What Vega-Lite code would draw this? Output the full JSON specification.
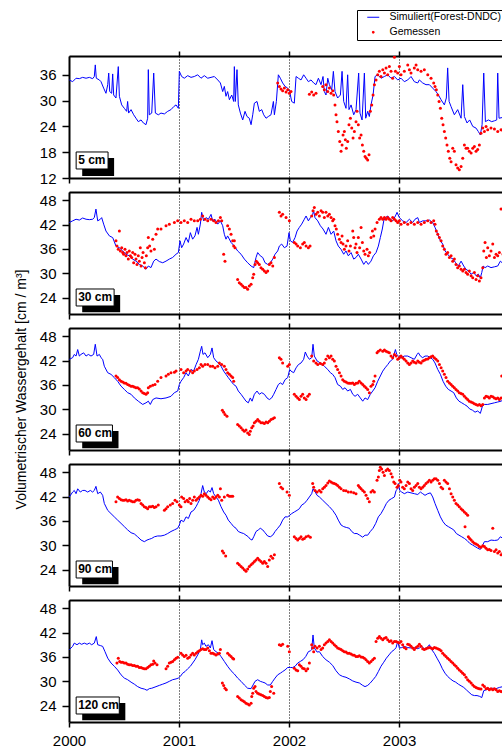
{
"$schema": "https://vega.github.io/schema/vega-lite/v6.json",
"padding": {"left": 14, "top": 9, "right": 0, "bottom": 0},
"spacing": 14,
"bounds": "flush",
"config": {
  "font": "Liberation Sans",
  "view": {"stroke": null},
  "axis": {"domainColor": "black", "domainWidth": 2, "tickColor": "black", "tickWidth": 1.5, "labelColor": "black", "labelFont": "Liberation Sans", "labelFontSize": 15, "titleFont": "Liberation Sans", "titleFontWeight": "normal", "titleColor": "black", "grid": false, "labelFlush": false, "labelOverlap": false}
},
"datasets": {
"s1": [{"x":2000.003,"y":34.8},{"x":2000.033,"y":34.4},{"x":2000.064,"y":35.2},{"x":2000.094,"y":35.1},{"x":2000.124,"y":35.4},{"x":2000.155,"y":35.2},{"x":2000.185,"y":35.4},{"x":2000.215,"y":35.1},{"x":2000.230,"y":35.6},{"x":2000.239,"y":38.3},{"x":2000.248,"y":35.2},{"x":2000.276,"y":34.8},{"x":2000.291,"y":34.4},{"x":2000.315,"y":32.9},{"x":2000.336,"y":31.7},{"x":2000.352,"y":33.7},{"x":2000.361,"y":36.4},{"x":2000.370,"y":32.1},{"x":2000.388,"y":31.7},{"x":2000.397,"y":36.2},{"x":2000.406,"y":31.3},{"x":2000.427,"y":30.6},{"x":2000.448,"y":37.9},{"x":2000.458,"y":31.0},{"x":2000.479,"y":29.0},{"x":2000.503,"y":28.2},{"x":2000.524,"y":27.5},{"x":2000.533,"y":29.8},{"x":2000.542,"y":27.1},{"x":2000.564,"y":27.9},{"x":2000.588,"y":26.7},{"x":2000.609,"y":25.9},{"x":2000.630,"y":25.1},{"x":2000.655,"y":25.5},{"x":2000.676,"y":24.8},{"x":2000.700,"y":24.4},{"x":2000.715,"y":25.9},{"x":2000.721,"y":37.2},{"x":2000.730,"y":26.7},{"x":2000.752,"y":27.1},{"x":2000.770,"y":36.4},{"x":2000.785,"y":27.1},{"x":2000.812,"y":26.7},{"x":2000.836,"y":27.1},{"x":2000.867,"y":26.9},{"x":2000.897,"y":27.5},{"x":2000.927,"y":27.9},{"x":2000.952,"y":28.6},{"x":2000.973,"y":29.0},{"x":2000.994,"y":28.2},{"x":2001.003,"y":36.8},{"x":2001.024,"y":35.6},{"x":2001.048,"y":35.2},{"x":2001.079,"y":35.8},{"x":2001.109,"y":35.4},{"x":2001.139,"y":35.6},{"x":2001.170,"y":36.0},{"x":2001.200,"y":35.2},{"x":2001.230,"y":35.8},{"x":2001.261,"y":35.2},{"x":2001.291,"y":35.4},{"x":2001.321,"y":35.6},{"x":2001.352,"y":34.8},{"x":2001.376,"y":34.1},{"x":2001.397,"y":32.1},{"x":2001.412,"y":33.3},{"x":2001.427,"y":31.0},{"x":2001.442,"y":32.1},{"x":2001.458,"y":30.2},{"x":2001.479,"y":31.3},{"x":2001.497,"y":29.8},{"x":2001.503,"y":37.9},{"x":2001.512,"y":29.8},{"x":2001.527,"y":37.2},{"x":2001.539,"y":29.0},{"x":2001.558,"y":27.1},{"x":2001.579,"y":25.5},{"x":2001.600,"y":27.5},{"x":2001.618,"y":26.3},{"x":2001.639,"y":25.9},{"x":2001.655,"y":24.4},{"x":2001.670,"y":26.7},{"x":2001.685,"y":29.4},{"x":2001.709,"y":29.8},{"x":2001.730,"y":27.5},{"x":2001.752,"y":27.9},{"x":2001.770,"y":26.7},{"x":2001.791,"y":25.9},{"x":2001.812,"y":26.3},{"x":2001.836,"y":26.7},{"x":2001.858,"y":29.8},{"x":2001.867,"y":26.7},{"x":2001.885,"y":29.8},{"x":2001.903,"y":36.0},{"x":2001.921,"y":35.2},{"x":2001.942,"y":34.1},{"x":2001.964,"y":33.3},{"x":2001.988,"y":32.9},{"x":2002.006,"y":32.1},{"x":2002.024,"y":29.8},{"x":2002.048,"y":29.4},{"x":2002.064,"y":35.6},{"x":2002.085,"y":35.2},{"x":2002.109,"y":34.8},{"x":2002.133,"y":36.0},{"x":2002.155,"y":35.2},{"x":2002.176,"y":34.4},{"x":2002.200,"y":34.8},{"x":2002.224,"y":34.1},{"x":2002.245,"y":33.7},{"x":2002.267,"y":35.2},{"x":2002.291,"y":33.7},{"x":2002.309,"y":35.6},{"x":2002.321,"y":32.1},{"x":2002.336,"y":31.3},{"x":2002.352,"y":35.2},{"x":2002.367,"y":33.7},{"x":2002.388,"y":32.5},{"x":2002.403,"y":36.8},{"x":2002.418,"y":32.1},{"x":2002.442,"y":30.6},{"x":2002.467,"y":31.3},{"x":2002.482,"y":36.8},{"x":2002.497,"y":29.8},{"x":2002.518,"y":28.2},{"x":2002.533,"y":36.0},{"x":2002.545,"y":27.9},{"x":2002.564,"y":29.0},{"x":2002.588,"y":26.7},{"x":2002.609,"y":27.9},{"x":2002.633,"y":36.4},{"x":2002.645,"y":27.1},{"x":2002.664,"y":25.5},{"x":2002.685,"y":36.4},{"x":2002.697,"y":25.9},{"x":2002.715,"y":27.5},{"x":2002.730,"y":26.3},{"x":2002.745,"y":29.0},{"x":2002.764,"y":31.3},{"x":2002.782,"y":35.6},{"x":2002.806,"y":36.0},{"x":2002.836,"y":35.2},{"x":2002.867,"y":35.6},{"x":2002.897,"y":36.0},{"x":2002.927,"y":35.2},{"x":2002.958,"y":35.6},{"x":2002.988,"y":34.8},{"x":2003.018,"y":35.2},{"x":2003.048,"y":34.4},{"x":2003.079,"y":34.8},{"x":2003.109,"y":35.6},{"x":2003.139,"y":34.4},{"x":2003.170,"y":34.1},{"x":2003.185,"y":34.8},{"x":2003.215,"y":34.1},{"x":2003.245,"y":33.7},{"x":2003.276,"y":33.7},{"x":2003.306,"y":32.9},{"x":2003.336,"y":32.1},{"x":2003.358,"y":31.3},{"x":2003.382,"y":30.2},{"x":2003.412,"y":29.0},{"x":2003.430,"y":30.6},{"x":2003.442,"y":37.6},{"x":2003.455,"y":29.8},{"x":2003.473,"y":28.6},{"x":2003.503,"y":26.7},{"x":2003.533,"y":27.9},{"x":2003.564,"y":25.9},{"x":2003.579,"y":33.7},{"x":2003.594,"y":26.3},{"x":2003.618,"y":24.8},{"x":2003.642,"y":25.5},{"x":2003.670,"y":24.0},{"x":2003.700,"y":23.6},{"x":2003.721,"y":22.8},{"x":2003.739,"y":22.0},{"x":2003.755,"y":24.4},{"x":2003.770,"y":36.4},{"x":2003.785,"y":25.1},{"x":2003.812,"y":25.5},{"x":2003.842,"y":25.1},{"x":2003.867,"y":25.3},{"x":2003.888,"y":25.5},{"x":2003.897,"y":36.4},{"x":2003.909,"y":25.9},{"x":2003.945,"y":26.1}],
"o1": [{"x":2001.897,"y":34.1},{"x":2001.912,"y":33.3},{"x":2001.927,"y":32.7},{"x":2001.942,"y":32.3},{"x":2001.958,"y":32.9},{"x":2001.973,"y":32.0},{"x":2001.988,"y":32.5},{"x":2002.003,"y":31.7},{"x":2002.018,"y":32.1},{"x":2002.185,"y":31.5},{"x":2002.206,"y":32.0},{"x":2002.224,"y":31.3},{"x":2002.245,"y":31.7},{"x":2002.306,"y":33.3},{"x":2002.321,"y":32.5},{"x":2002.336,"y":33.7},{"x":2002.352,"y":32.1},{"x":2002.367,"y":32.9},{"x":2002.382,"y":31.7},{"x":2002.397,"y":32.3},{"x":2002.406,"y":31.3},{"x":2002.418,"y":29.0},{"x":2002.427,"y":26.7},{"x":2002.436,"y":25.1},{"x":2002.448,"y":22.8},{"x":2002.461,"y":20.5},{"x":2002.473,"y":18.2},{"x":2002.482,"y":19.7},{"x":2002.491,"y":22.0},{"x":2002.503,"y":22.8},{"x":2002.512,"y":20.9},{"x":2002.521,"y":18.9},{"x":2002.533,"y":20.5},{"x":2002.545,"y":24.4},{"x":2002.558,"y":25.9},{"x":2002.570,"y":23.6},{"x":2002.582,"y":21.3},{"x":2002.594,"y":22.8},{"x":2002.609,"y":25.1},{"x":2002.618,"y":27.5},{"x":2002.630,"y":24.4},{"x":2002.642,"y":21.3},{"x":2002.655,"y":22.0},{"x":2002.667,"y":19.7},{"x":2002.679,"y":18.2},{"x":2002.691,"y":17.0},{"x":2002.703,"y":16.6},{"x":2002.715,"y":16.2},{"x":2002.727,"y":17.4},{"x":2002.739,"y":27.5},{"x":2002.752,"y":29.0},{"x":2002.764,"y":31.3},{"x":2002.776,"y":33.7},{"x":2002.791,"y":34.8},{"x":2002.806,"y":36.0},{"x":2002.821,"y":36.8},{"x":2002.836,"y":35.6},{"x":2002.852,"y":37.2},{"x":2002.867,"y":36.4},{"x":2002.882,"y":37.6},{"x":2002.897,"y":36.0},{"x":2002.912,"y":37.9},{"x":2002.927,"y":36.8},{"x":2002.942,"y":35.2},{"x":2002.958,"y":40.1},{"x":2002.967,"y":36.8},{"x":2002.988,"y":36.4},{"x":2003.003,"y":37.9},{"x":2003.018,"y":36.0},{"x":2003.048,"y":36.8},{"x":2003.079,"y":38.3},{"x":2003.094,"y":37.2},{"x":2003.109,"y":36.4},{"x":2003.139,"y":37.6},{"x":2003.155,"y":38.3},{"x":2003.170,"y":37.2},{"x":2003.200,"y":36.8},{"x":2003.230,"y":37.2},{"x":2003.261,"y":36.0},{"x":2003.291,"y":35.2},{"x":2003.315,"y":34.1},{"x":2003.327,"y":33.3},{"x":2003.339,"y":32.5},{"x":2003.352,"y":31.3},{"x":2003.364,"y":29.8},{"x":2003.376,"y":28.2},{"x":2003.388,"y":25.9},{"x":2003.400,"y":24.4},{"x":2003.412,"y":22.8},{"x":2003.424,"y":21.3},{"x":2003.436,"y":19.7},{"x":2003.448,"y":18.2},{"x":2003.461,"y":16.6},{"x":2003.473,"y":15.8},{"x":2003.488,"y":18.9},{"x":2003.503,"y":18.2},{"x":2003.518,"y":15.1},{"x":2003.533,"y":14.3},{"x":2003.548,"y":13.9},{"x":2003.564,"y":14.7},{"x":2003.579,"y":16.6},{"x":2003.594,"y":19.7},{"x":2003.609,"y":18.9},{"x":2003.624,"y":18.9},{"x":2003.639,"y":18.2},{"x":2003.655,"y":17.8},{"x":2003.670,"y":18.9},{"x":2003.685,"y":19.3},{"x":2003.700,"y":18.2},{"x":2003.715,"y":18.6},{"x":2003.730,"y":19.7},{"x":2003.745,"y":22.4},{"x":2003.761,"y":23.6},{"x":2003.776,"y":22.8},{"x":2003.791,"y":24.0},{"x":2003.806,"y":23.2},{"x":2003.836,"y":23.6},{"x":2003.867,"y":23.4},{"x":2003.897,"y":22.8},{"x":2003.927,"y":23.2},{"x":2003.945,"y":23.0}],
"s2": [{"x":2000.003,"y":42.5},{"x":2000.033,"y":42.9},{"x":2000.064,"y":43.3},{"x":2000.094,"y":43.1},{"x":2000.124,"y":43.6},{"x":2000.155,"y":43.3},{"x":2000.185,"y":43.2},{"x":2000.215,"y":43.3},{"x":2000.230,"y":43.7},{"x":2000.245,"y":45.8},{"x":2000.261,"y":42.9},{"x":2000.285,"y":43.3},{"x":2000.297,"y":43.7},{"x":2000.315,"y":42.1},{"x":2000.336,"y":40.4},{"x":2000.367,"y":39.2},{"x":2000.397,"y":38.8},{"x":2000.427,"y":36.7},{"x":2000.458,"y":36.3},{"x":2000.488,"y":35.5},{"x":2000.518,"y":34.7},{"x":2000.548,"y":34.3},{"x":2000.579,"y":33.5},{"x":2000.609,"y":33.0},{"x":2000.639,"y":32.2},{"x":2000.670,"y":31.8},{"x":2000.700,"y":31.0},{"x":2000.721,"y":31.8},{"x":2000.745,"y":31.4},{"x":2000.770,"y":33.0},{"x":2000.791,"y":33.5},{"x":2000.821,"y":32.9},{"x":2000.852,"y":32.6},{"x":2000.882,"y":33.0},{"x":2000.912,"y":33.5},{"x":2000.942,"y":33.9},{"x":2000.973,"y":34.7},{"x":2000.994,"y":35.1},{"x":2001.009,"y":38.0},{"x":2001.024,"y":36.3},{"x":2001.042,"y":37.2},{"x":2001.064,"y":38.8},{"x":2001.085,"y":37.6},{"x":2001.103,"y":40.0},{"x":2001.124,"y":38.4},{"x":2001.145,"y":39.2},{"x":2001.164,"y":41.3},{"x":2001.176,"y":39.6},{"x":2001.194,"y":42.1},{"x":2001.206,"y":45.0},{"x":2001.224,"y":42.9},{"x":2001.245,"y":43.7},{"x":2001.267,"y":43.3},{"x":2001.291,"y":44.5},{"x":2001.306,"y":42.9},{"x":2001.327,"y":43.3},{"x":2001.352,"y":42.1},{"x":2001.376,"y":42.9},{"x":2001.397,"y":41.7},{"x":2001.412,"y":39.6},{"x":2001.427,"y":38.4},{"x":2001.442,"y":39.2},{"x":2001.473,"y":37.6},{"x":2001.503,"y":36.7},{"x":2001.533,"y":35.5},{"x":2001.564,"y":34.7},{"x":2001.594,"y":33.5},{"x":2001.624,"y":32.6},{"x":2001.655,"y":31.8},{"x":2001.679,"y":31.4},{"x":2001.700,"y":33.9},{"x":2001.715,"y":35.1},{"x":2001.739,"y":34.3},{"x":2001.761,"y":33.9},{"x":2001.782,"y":32.6},{"x":2001.806,"y":32.2},{"x":2001.830,"y":32.6},{"x":2001.852,"y":33.5},{"x":2001.873,"y":34.7},{"x":2001.897,"y":35.5},{"x":2001.912,"y":36.7},{"x":2001.933,"y":37.2},{"x":2001.958,"y":36.3},{"x":2001.982,"y":36.7},{"x":2002.000,"y":40.0},{"x":2002.012,"y":38.0},{"x":2002.033,"y":37.6},{"x":2002.055,"y":38.8},{"x":2002.073,"y":40.4},{"x":2002.094,"y":41.3},{"x":2002.115,"y":42.1},{"x":2002.139,"y":43.3},{"x":2002.155,"y":44.1},{"x":2002.176,"y":42.9},{"x":2002.194,"y":43.7},{"x":2002.215,"y":44.5},{"x":2002.224,"y":45.4},{"x":2002.236,"y":43.7},{"x":2002.261,"y":42.9},{"x":2002.285,"y":41.7},{"x":2002.309,"y":40.9},{"x":2002.336,"y":39.6},{"x":2002.358,"y":41.3},{"x":2002.382,"y":39.6},{"x":2002.406,"y":40.4},{"x":2002.427,"y":38.0},{"x":2002.448,"y":36.7},{"x":2002.473,"y":35.9},{"x":2002.497,"y":34.7},{"x":2002.518,"y":35.5},{"x":2002.539,"y":34.3},{"x":2002.564,"y":35.1},{"x":2002.588,"y":33.5},{"x":2002.609,"y":33.9},{"x":2002.630,"y":34.7},{"x":2002.655,"y":33.5},{"x":2002.679,"y":32.2},{"x":2002.700,"y":33.0},{"x":2002.721,"y":32.2},{"x":2002.745,"y":33.0},{"x":2002.767,"y":34.3},{"x":2002.791,"y":35.1},{"x":2002.812,"y":36.7},{"x":2002.830,"y":38.8},{"x":2002.848,"y":40.9},{"x":2002.861,"y":42.9},{"x":2002.876,"y":43.7},{"x":2002.897,"y":44.1},{"x":2002.921,"y":43.3},{"x":2002.942,"y":42.9},{"x":2002.967,"y":44.1},{"x":2002.982,"y":45.0},{"x":2003.003,"y":43.7},{"x":2003.033,"y":42.9},{"x":2003.064,"y":42.5},{"x":2003.094,"y":43.3},{"x":2003.124,"y":42.5},{"x":2003.145,"y":43.3},{"x":2003.170,"y":43.7},{"x":2003.185,"y":42.5},{"x":2003.215,"y":42.9},{"x":2003.245,"y":42.9},{"x":2003.276,"y":43.1},{"x":2003.306,"y":42.5},{"x":2003.327,"y":41.3},{"x":2003.352,"y":39.6},{"x":2003.376,"y":38.0},{"x":2003.397,"y":37.2},{"x":2003.418,"y":35.5},{"x":2003.442,"y":34.7},{"x":2003.467,"y":33.9},{"x":2003.491,"y":33.5},{"x":2003.515,"y":32.6},{"x":2003.539,"y":31.8},{"x":2003.564,"y":33.0},{"x":2003.588,"y":31.8},{"x":2003.609,"y":31.0},{"x":2003.630,"y":30.6},{"x":2003.655,"y":29.8},{"x":2003.679,"y":30.2},{"x":2003.700,"y":29.4},{"x":2003.721,"y":29.8},{"x":2003.739,"y":28.9},{"x":2003.752,"y":30.2},{"x":2003.764,"y":31.8},{"x":2003.782,"y":31.4},{"x":2003.806,"y":31.8},{"x":2003.836,"y":31.4},{"x":2003.867,"y":31.6},{"x":2003.897,"y":31.8},{"x":2003.921,"y":33.0},{"x":2003.945,"y":32.4}],
"o2": [{"x":2000.427,"y":38.0},{"x":2000.436,"y":36.7},{"x":2000.448,"y":35.9},{"x":2000.458,"y":40.4},{"x":2000.467,"y":35.5},{"x":2000.479,"y":36.3},{"x":2000.488,"y":35.1},{"x":2000.497,"y":34.7},{"x":2000.509,"y":35.9},{"x":2000.518,"y":34.3},{"x":2000.527,"y":35.1},{"x":2000.539,"y":33.5},{"x":2000.548,"y":35.5},{"x":2000.558,"y":34.3},{"x":2000.570,"y":33.9},{"x":2000.579,"y":35.1},{"x":2000.588,"y":32.6},{"x":2000.600,"y":34.7},{"x":2000.609,"y":33.5},{"x":2000.618,"y":32.2},{"x":2000.630,"y":34.3},{"x":2000.639,"y":33.0},{"x":2000.648,"y":36.3},{"x":2000.655,"y":31.8},{"x":2000.664,"y":33.9},{"x":2000.673,"y":35.1},{"x":2000.685,"y":32.6},{"x":2000.694,"y":31.4},{"x":2000.703,"y":34.3},{"x":2000.715,"y":36.3},{"x":2000.721,"y":38.8},{"x":2000.733,"y":36.7},{"x":2000.745,"y":35.5},{"x":2000.761,"y":38.4},{"x":2000.776,"y":35.9},{"x":2000.791,"y":39.6},{"x":2000.806,"y":40.9},{"x":2000.836,"y":40.9},{"x":2000.882,"y":41.7},{"x":2000.912,"y":42.1},{"x":2000.958,"y":42.5},{"x":2000.988,"y":42.9},{"x":2001.018,"y":42.5},{"x":2001.048,"y":42.9},{"x":2001.079,"y":42.5},{"x":2001.109,"y":43.3},{"x":2001.139,"y":42.9},{"x":2001.170,"y":42.9},{"x":2001.194,"y":43.3},{"x":2001.215,"y":44.1},{"x":2001.236,"y":43.3},{"x":2001.261,"y":42.9},{"x":2001.291,"y":43.3},{"x":2001.315,"y":42.9},{"x":2001.336,"y":42.5},{"x":2001.358,"y":42.9},{"x":2001.376,"y":43.7},{"x":2001.388,"y":42.9},{"x":2001.406,"y":34.7},{"x":2001.418,"y":33.0},{"x":2001.442,"y":41.7},{"x":2001.458,"y":40.9},{"x":2001.473,"y":39.6},{"x":2001.488,"y":38.0},{"x":2001.497,"y":36.7},{"x":2001.503,"y":38.0},{"x":2001.509,"y":36.3},{"x":2001.533,"y":28.5},{"x":2001.548,"y":27.7},{"x":2001.564,"y":27.3},{"x":2001.579,"y":26.9},{"x":2001.594,"y":26.5},{"x":2001.609,"y":26.5},{"x":2001.624,"y":26.1},{"x":2001.639,"y":26.9},{"x":2001.655,"y":27.3},{"x":2001.670,"y":28.9},{"x":2001.679,"y":29.8},{"x":2001.691,"y":32.2},{"x":2001.703,"y":33.0},{"x":2001.715,"y":32.6},{"x":2001.730,"y":32.2},{"x":2001.745,"y":31.4},{"x":2001.761,"y":31.0},{"x":2001.776,"y":30.6},{"x":2001.791,"y":30.2},{"x":2001.806,"y":30.6},{"x":2001.821,"y":32.2},{"x":2001.836,"y":32.6},{"x":2001.852,"y":31.8},{"x":2001.867,"y":33.9},{"x":2001.912,"y":45.0},{"x":2001.927,"y":44.1},{"x":2001.942,"y":44.5},{"x":2001.973,"y":43.7},{"x":2002.003,"y":42.9},{"x":2002.048,"y":37.6},{"x":2002.064,"y":37.2},{"x":2002.079,"y":36.7},{"x":2002.103,"y":36.3},{"x":2002.124,"y":37.2},{"x":2002.139,"y":37.6},{"x":2002.155,"y":36.7},{"x":2002.176,"y":36.3},{"x":2002.191,"y":36.7},{"x":2002.206,"y":44.1},{"x":2002.218,"y":45.4},{"x":2002.230,"y":46.2},{"x":2002.245,"y":44.5},{"x":2002.261,"y":45.0},{"x":2002.276,"y":44.1},{"x":2002.291,"y":45.4},{"x":2002.306,"y":45.0},{"x":2002.321,"y":43.7},{"x":2002.336,"y":45.0},{"x":2002.352,"y":44.1},{"x":2002.367,"y":44.5},{"x":2002.382,"y":43.7},{"x":2002.397,"y":42.9},{"x":2002.406,"y":43.3},{"x":2002.418,"y":41.7},{"x":2002.430,"y":40.9},{"x":2002.442,"y":39.6},{"x":2002.458,"y":38.4},{"x":2002.473,"y":37.6},{"x":2002.482,"y":39.2},{"x":2002.491,"y":37.2},{"x":2002.503,"y":35.9},{"x":2002.518,"y":36.7},{"x":2002.533,"y":38.0},{"x":2002.545,"y":35.5},{"x":2002.558,"y":36.7},{"x":2002.579,"y":40.4},{"x":2002.588,"y":38.8},{"x":2002.600,"y":36.3},{"x":2002.609,"y":37.2},{"x":2002.618,"y":35.1},{"x":2002.630,"y":38.8},{"x":2002.642,"y":36.3},{"x":2002.655,"y":41.3},{"x":2002.667,"y":37.6},{"x":2002.679,"y":35.5},{"x":2002.691,"y":34.7},{"x":2002.709,"y":35.9},{"x":2002.721,"y":34.3},{"x":2002.733,"y":35.1},{"x":2002.745,"y":38.8},{"x":2002.758,"y":40.4},{"x":2002.770,"y":39.2},{"x":2002.782,"y":40.9},{"x":2002.800,"y":42.5},{"x":2002.821,"y":43.3},{"x":2002.836,"y":43.7},{"x":2002.852,"y":43.3},{"x":2002.867,"y":43.7},{"x":2002.882,"y":43.3},{"x":2002.897,"y":43.7},{"x":2002.912,"y":43.3},{"x":2002.927,"y":42.9},{"x":2002.942,"y":43.7},{"x":2002.958,"y":43.3},{"x":2002.973,"y":42.9},{"x":2002.988,"y":42.5},{"x":2003.003,"y":42.9},{"x":2003.018,"y":42.1},{"x":2003.048,"y":42.5},{"x":2003.079,"y":42.1},{"x":2003.109,"y":42.5},{"x":2003.139,"y":42.1},{"x":2003.170,"y":42.5},{"x":2003.200,"y":42.1},{"x":2003.230,"y":42.5},{"x":2003.261,"y":42.9},{"x":2003.291,"y":42.5},{"x":2003.315,"y":42.9},{"x":2003.327,"y":42.1},{"x":2003.339,"y":40.4},{"x":2003.352,"y":39.6},{"x":2003.367,"y":38.8},{"x":2003.382,"y":38.0},{"x":2003.397,"y":36.7},{"x":2003.412,"y":35.9},{"x":2003.427,"y":34.7},{"x":2003.442,"y":35.1},{"x":2003.458,"y":33.9},{"x":2003.473,"y":34.3},{"x":2003.488,"y":33.0},{"x":2003.503,"y":33.5},{"x":2003.518,"y":32.2},{"x":2003.533,"y":31.4},{"x":2003.548,"y":31.8},{"x":2003.564,"y":31.0},{"x":2003.579,"y":30.6},{"x":2003.594,"y":31.0},{"x":2003.609,"y":30.2},{"x":2003.624,"y":29.8},{"x":2003.639,"y":30.6},{"x":2003.655,"y":29.4},{"x":2003.670,"y":28.9},{"x":2003.685,"y":30.2},{"x":2003.700,"y":28.5},{"x":2003.715,"y":29.4},{"x":2003.730,"y":28.1},{"x":2003.745,"y":28.9},{"x":2003.761,"y":31.4},{"x":2003.770,"y":35.5},{"x":2003.782,"y":37.6},{"x":2003.794,"y":33.9},{"x":2003.806,"y":36.3},{"x":2003.821,"y":34.3},{"x":2003.836,"y":35.5},{"x":2003.852,"y":37.2},{"x":2003.867,"y":33.9},{"x":2003.882,"y":34.7},{"x":2003.897,"y":34.3},{"x":2003.912,"y":35.1},{"x":2003.927,"y":45.8},{"x":2003.945,"y":34.7}],
"s3": [{"x":2000.003,"y":42.3},{"x":2000.033,"y":42.7},{"x":2000.048,"y":43.5},{"x":2000.064,"y":43.1},{"x":2000.079,"y":44.7},{"x":2000.094,"y":43.1},{"x":2000.109,"y":43.5},{"x":2000.133,"y":43.9},{"x":2000.155,"y":43.1},{"x":2000.176,"y":43.5},{"x":2000.200,"y":43.1},{"x":2000.224,"y":43.5},{"x":2000.239,"y":46.0},{"x":2000.255,"y":43.1},{"x":2000.276,"y":43.5},{"x":2000.291,"y":42.7},{"x":2000.306,"y":42.3},{"x":2000.321,"y":40.6},{"x":2000.352,"y":39.0},{"x":2000.382,"y":38.6},{"x":2000.412,"y":37.8},{"x":2000.442,"y":36.9},{"x":2000.473,"y":35.7},{"x":2000.503,"y":34.9},{"x":2000.533,"y":34.1},{"x":2000.564,"y":33.7},{"x":2000.594,"y":32.8},{"x":2000.630,"y":32.0},{"x":2000.670,"y":31.2},{"x":2000.700,"y":31.6},{"x":2000.721,"y":32.0},{"x":2000.739,"y":31.2},{"x":2000.761,"y":32.4},{"x":2000.791,"y":32.8},{"x":2000.836,"y":32.6},{"x":2000.882,"y":32.8},{"x":2000.927,"y":33.2},{"x":2000.958,"y":34.1},{"x":2000.988,"y":34.5},{"x":2001.003,"y":36.1},{"x":2001.018,"y":36.9},{"x":2001.042,"y":37.8},{"x":2001.064,"y":39.0},{"x":2001.085,"y":38.2},{"x":2001.109,"y":39.8},{"x":2001.133,"y":39.4},{"x":2001.155,"y":41.0},{"x":2001.176,"y":42.3},{"x":2001.194,"y":44.3},{"x":2001.206,"y":45.5},{"x":2001.218,"y":43.5},{"x":2001.236,"y":43.9},{"x":2001.261,"y":42.7},{"x":2001.285,"y":43.5},{"x":2001.300,"y":45.1},{"x":2001.315,"y":42.7},{"x":2001.336,"y":41.9},{"x":2001.358,"y":41.4},{"x":2001.382,"y":40.6},{"x":2001.406,"y":39.4},{"x":2001.427,"y":38.6},{"x":2001.448,"y":37.8},{"x":2001.473,"y":36.9},{"x":2001.497,"y":36.1},{"x":2001.518,"y":35.7},{"x":2001.539,"y":34.5},{"x":2001.564,"y":33.7},{"x":2001.588,"y":32.8},{"x":2001.609,"y":32.0},{"x":2001.630,"y":31.6},{"x":2001.648,"y":32.8},{"x":2001.664,"y":32.0},{"x":2001.685,"y":33.7},{"x":2001.709,"y":34.5},{"x":2001.730,"y":33.7},{"x":2001.752,"y":34.1},{"x":2001.776,"y":33.7},{"x":2001.800,"y":32.8},{"x":2001.821,"y":32.4},{"x":2001.842,"y":32.8},{"x":2001.861,"y":33.7},{"x":2001.882,"y":34.9},{"x":2001.903,"y":36.1},{"x":2001.921,"y":36.5},{"x":2001.942,"y":36.1},{"x":2001.964,"y":37.3},{"x":2001.988,"y":37.8},{"x":2002.006,"y":39.8},{"x":2002.018,"y":39.4},{"x":2002.042,"y":39.0},{"x":2002.064,"y":40.2},{"x":2002.085,"y":41.0},{"x":2002.109,"y":41.4},{"x":2002.133,"y":42.3},{"x":2002.148,"y":44.1},{"x":2002.164,"y":43.1},{"x":2002.185,"y":42.3},{"x":2002.206,"y":42.7},{"x":2002.218,"y":46.0},{"x":2002.230,"y":43.1},{"x":2002.255,"y":41.9},{"x":2002.285,"y":41.4},{"x":2002.321,"y":40.6},{"x":2002.352,"y":39.8},{"x":2002.376,"y":39.0},{"x":2002.397,"y":38.6},{"x":2002.418,"y":37.8},{"x":2002.442,"y":36.1},{"x":2002.467,"y":35.7},{"x":2002.488,"y":34.9},{"x":2002.509,"y":35.3},{"x":2002.533,"y":34.5},{"x":2002.558,"y":34.9},{"x":2002.579,"y":33.7},{"x":2002.600,"y":33.2},{"x":2002.624,"y":33.7},{"x":2002.648,"y":32.8},{"x":2002.670,"y":32.0},{"x":2002.691,"y":32.8},{"x":2002.715,"y":32.4},{"x":2002.739,"y":33.7},{"x":2002.761,"y":34.5},{"x":2002.782,"y":35.3},{"x":2002.806,"y":36.9},{"x":2002.830,"y":38.2},{"x":2002.852,"y":39.4},{"x":2002.873,"y":40.2},{"x":2002.897,"y":41.0},{"x":2002.921,"y":41.9},{"x":2002.942,"y":42.3},{"x":2002.967,"y":44.7},{"x":2002.979,"y":43.5},{"x":2002.994,"y":43.1},{"x":2003.018,"y":42.7},{"x":2003.048,"y":43.1},{"x":2003.079,"y":43.1},{"x":2003.109,"y":42.7},{"x":2003.139,"y":42.3},{"x":2003.164,"y":43.5},{"x":2003.176,"y":43.9},{"x":2003.194,"y":43.1},{"x":2003.215,"y":42.7},{"x":2003.236,"y":43.1},{"x":2003.261,"y":43.1},{"x":2003.285,"y":42.7},{"x":2003.306,"y":42.3},{"x":2003.327,"y":41.4},{"x":2003.352,"y":39.8},{"x":2003.376,"y":38.6},{"x":2003.400,"y":36.9},{"x":2003.424,"y":35.7},{"x":2003.448,"y":34.9},{"x":2003.473,"y":34.5},{"x":2003.497,"y":34.1},{"x":2003.521,"y":32.8},{"x":2003.545,"y":32.0},{"x":2003.570,"y":31.6},{"x":2003.594,"y":31.2},{"x":2003.618,"y":30.8},{"x":2003.642,"y":30.1},{"x":2003.667,"y":29.8},{"x":2003.691,"y":29.3},{"x":2003.715,"y":29.6},{"x":2003.739,"y":29.0},{"x":2003.758,"y":30.8},{"x":2003.776,"y":31.2},{"x":2003.806,"y":31.2},{"x":2003.836,"y":31.4},{"x":2003.867,"y":31.6},{"x":2003.897,"y":31.8},{"x":2003.927,"y":32.0},{"x":2003.945,"y":32.3}],
"o3": [{"x":2000.427,"y":38.2},{"x":2000.442,"y":37.8},{"x":2000.458,"y":37.3},{"x":2000.473,"y":36.9},{"x":2000.488,"y":36.7},{"x":2000.503,"y":36.5},{"x":2000.518,"y":36.4},{"x":2000.533,"y":36.1},{"x":2000.548,"y":35.9},{"x":2000.564,"y":35.7},{"x":2000.579,"y":35.7},{"x":2000.594,"y":35.5},{"x":2000.609,"y":35.3},{"x":2000.624,"y":35.3},{"x":2000.639,"y":35.0},{"x":2000.655,"y":34.5},{"x":2000.670,"y":34.1},{"x":2000.685,"y":33.9},{"x":2000.700,"y":33.7},{"x":2000.715,"y":34.1},{"x":2000.721,"y":35.3},{"x":2000.739,"y":35.7},{"x":2000.761,"y":35.9},{"x":2000.782,"y":36.1},{"x":2000.806,"y":36.9},{"x":2000.836,"y":37.8},{"x":2000.882,"y":38.2},{"x":2000.903,"y":38.6},{"x":2000.927,"y":39.0},{"x":2000.958,"y":39.1},{"x":2000.973,"y":39.4},{"x":2001.018,"y":39.8},{"x":2001.042,"y":39.0},{"x":2001.064,"y":39.4},{"x":2001.079,"y":39.8},{"x":2001.103,"y":39.4},{"x":2001.124,"y":39.0},{"x":2001.139,"y":39.4},{"x":2001.164,"y":39.8},{"x":2001.185,"y":40.2},{"x":2001.200,"y":41.0},{"x":2001.215,"y":40.6},{"x":2001.236,"y":41.0},{"x":2001.261,"y":41.0},{"x":2001.285,"y":40.6},{"x":2001.306,"y":40.6},{"x":2001.327,"y":40.2},{"x":2001.352,"y":40.6},{"x":2001.367,"y":41.4},{"x":2001.388,"y":41.0},{"x":2001.412,"y":40.6},{"x":2001.427,"y":39.8},{"x":2001.442,"y":39.0},{"x":2001.458,"y":38.6},{"x":2001.473,"y":38.2},{"x":2001.488,"y":37.8},{"x":2001.497,"y":36.9},{"x":2001.394,"y":29.8},{"x":2001.406,"y":29.3},{"x":2001.418,"y":28.7},{"x":2001.436,"y":28.3},{"x":2001.533,"y":26.3},{"x":2001.548,"y":25.9},{"x":2001.564,"y":25.5},{"x":2001.579,"y":25.0},{"x":2001.594,"y":24.6},{"x":2001.609,"y":24.9},{"x":2001.624,"y":24.2},{"x":2001.639,"y":23.8},{"x":2001.648,"y":24.6},{"x":2001.661,"y":25.5},{"x":2001.673,"y":25.9},{"x":2001.685,"y":26.7},{"x":2001.700,"y":27.1},{"x":2001.715,"y":27.5},{"x":2001.730,"y":27.1},{"x":2001.745,"y":26.7},{"x":2001.761,"y":26.7},{"x":2001.776,"y":26.5},{"x":2001.791,"y":26.9},{"x":2001.806,"y":26.7},{"x":2001.821,"y":27.1},{"x":2001.836,"y":27.5},{"x":2001.852,"y":27.7},{"x":2001.867,"y":27.9},{"x":2001.912,"y":42.7},{"x":2001.927,"y":42.3},{"x":2001.942,"y":41.4},{"x":2001.988,"y":40.6},{"x":2002.003,"y":41.0},{"x":2002.048,"y":33.7},{"x":2002.064,"y":33.2},{"x":2002.079,"y":32.8},{"x":2002.094,"y":32.4},{"x":2002.109,"y":33.2},{"x":2002.124,"y":33.7},{"x":2002.139,"y":32.8},{"x":2002.155,"y":32.4},{"x":2002.170,"y":33.2},{"x":2002.185,"y":33.7},{"x":2002.206,"y":43.1},{"x":2002.224,"y":41.9},{"x":2002.245,"y":41.4},{"x":2002.261,"y":41.0},{"x":2002.285,"y":41.3},{"x":2002.306,"y":41.0},{"x":2002.321,"y":41.4},{"x":2002.336,"y":42.3},{"x":2002.352,"y":43.1},{"x":2002.367,"y":42.7},{"x":2002.382,"y":43.1},{"x":2002.397,"y":42.3},{"x":2002.412,"y":41.9},{"x":2002.427,"y":40.6},{"x":2002.442,"y":39.8},{"x":2002.458,"y":39.0},{"x":2002.473,"y":38.2},{"x":2002.488,"y":37.3},{"x":2002.503,"y":36.9},{"x":2002.518,"y":36.7},{"x":2002.533,"y":36.5},{"x":2002.548,"y":36.4},{"x":2002.564,"y":36.4},{"x":2002.579,"y":36.5},{"x":2002.594,"y":36.1},{"x":2002.609,"y":36.4},{"x":2002.624,"y":36.5},{"x":2002.639,"y":36.9},{"x":2002.655,"y":36.5},{"x":2002.670,"y":36.1},{"x":2002.685,"y":35.7},{"x":2002.700,"y":35.3},{"x":2002.715,"y":34.9},{"x":2002.730,"y":34.1},{"x":2002.745,"y":35.7},{"x":2002.761,"y":36.1},{"x":2002.770,"y":36.9},{"x":2002.782,"y":38.2},{"x":2002.800,"y":43.9},{"x":2002.812,"y":44.3},{"x":2002.830,"y":44.6},{"x":2002.852,"y":44.3},{"x":2002.867,"y":44.6},{"x":2002.882,"y":44.3},{"x":2002.897,"y":44.1},{"x":2002.912,"y":43.9},{"x":2002.927,"y":43.1},{"x":2002.942,"y":42.7},{"x":2002.958,"y":43.5},{"x":2002.973,"y":43.1},{"x":2002.988,"y":42.3},{"x":2003.003,"y":42.7},{"x":2003.018,"y":43.1},{"x":2003.033,"y":42.7},{"x":2003.048,"y":42.3},{"x":2003.064,"y":41.9},{"x":2003.079,"y":41.4},{"x":2003.094,"y":41.0},{"x":2003.109,"y":41.4},{"x":2003.124,"y":41.9},{"x":2003.139,"y":41.6},{"x":2003.155,"y":41.4},{"x":2003.170,"y":41.9},{"x":2003.185,"y":41.6},{"x":2003.200,"y":41.4},{"x":2003.215,"y":41.9},{"x":2003.230,"y":42.1},{"x":2003.245,"y":42.3},{"x":2003.261,"y":42.4},{"x":2003.276,"y":42.7},{"x":2003.291,"y":42.9},{"x":2003.306,"y":43.1},{"x":2003.321,"y":42.7},{"x":2003.336,"y":42.3},{"x":2003.352,"y":41.9},{"x":2003.367,"y":41.0},{"x":2003.382,"y":40.2},{"x":2003.397,"y":39.4},{"x":2003.412,"y":38.6},{"x":2003.427,"y":37.8},{"x":2003.442,"y":36.9},{"x":2003.458,"y":36.5},{"x":2003.473,"y":36.1},{"x":2003.488,"y":35.7},{"x":2003.503,"y":35.3},{"x":2003.518,"y":34.9},{"x":2003.533,"y":34.5},{"x":2003.548,"y":34.1},{"x":2003.564,"y":33.9},{"x":2003.579,"y":33.7},{"x":2003.594,"y":33.2},{"x":2003.609,"y":32.8},{"x":2003.624,"y":32.4},{"x":2003.639,"y":32.0},{"x":2003.655,"y":31.8},{"x":2003.670,"y":31.6},{"x":2003.685,"y":31.4},{"x":2003.700,"y":31.2},{"x":2003.715,"y":31.0},{"x":2003.730,"y":31.2},{"x":2003.745,"y":30.9},{"x":2003.761,"y":31.2},{"x":2003.776,"y":32.8},{"x":2003.791,"y":33.2},{"x":2003.806,"y":33.1},{"x":2003.821,"y":32.8},{"x":2003.836,"y":33.2},{"x":2003.852,"y":33.1},{"x":2003.867,"y":32.8},{"x":2003.882,"y":32.6},{"x":2003.897,"y":32.8},{"x":2003.912,"y":32.4},{"x":2003.927,"y":32.8},{"x":2003.933,"y":38.2},{"x":2003.945,"y":32.8}],
"s4": [{"x":2000.003,"y":41.9},{"x":2000.033,"y":43.1},{"x":2000.048,"y":43.5},{"x":2000.064,"y":42.7},{"x":2000.079,"y":43.9},{"x":2000.103,"y":43.1},{"x":2000.124,"y":43.5},{"x":2000.145,"y":43.5},{"x":2000.170,"y":43.1},{"x":2000.194,"y":43.5},{"x":2000.215,"y":43.1},{"x":2000.230,"y":43.5},{"x":2000.245,"y":44.5},{"x":2000.261,"y":42.7},{"x":2000.285,"y":43.1},{"x":2000.306,"y":42.3},{"x":2000.321,"y":40.3},{"x":2000.352,"y":38.6},{"x":2000.382,"y":37.8},{"x":2000.412,"y":37.0},{"x":2000.442,"y":36.2},{"x":2000.473,"y":35.4},{"x":2000.503,"y":34.6},{"x":2000.533,"y":33.8},{"x":2000.564,"y":33.1},{"x":2000.594,"y":32.8},{"x":2000.624,"y":32.1},{"x":2000.655,"y":31.3},{"x":2000.685,"y":30.9},{"x":2000.709,"y":31.3},{"x":2000.730,"y":31.5},{"x":2000.752,"y":31.7},{"x":2000.776,"y":32.1},{"x":2000.806,"y":32.3},{"x":2000.836,"y":32.3},{"x":2000.867,"y":32.5},{"x":2000.897,"y":32.9},{"x":2000.927,"y":33.4},{"x":2000.958,"y":33.8},{"x":2000.988,"y":34.2},{"x":2001.003,"y":35.0},{"x":2001.018,"y":36.2},{"x":2001.042,"y":35.8},{"x":2001.064,"y":37.0},{"x":2001.085,"y":36.6},{"x":2001.109,"y":38.2},{"x":2001.133,"y":38.6},{"x":2001.155,"y":39.5},{"x":2001.170,"y":40.3},{"x":2001.185,"y":41.1},{"x":2001.200,"y":42.7},{"x":2001.215,"y":44.7},{"x":2001.230,"y":43.1},{"x":2001.248,"y":42.7},{"x":2001.267,"y":43.5},{"x":2001.285,"y":43.1},{"x":2001.300,"y":44.2},{"x":2001.315,"y":42.7},{"x":2001.336,"y":41.9},{"x":2001.358,"y":41.1},{"x":2001.382,"y":39.5},{"x":2001.406,"y":38.2},{"x":2001.427,"y":37.4},{"x":2001.448,"y":36.2},{"x":2001.473,"y":35.4},{"x":2001.497,"y":34.6},{"x":2001.518,"y":34.2},{"x":2001.539,"y":33.4},{"x":2001.564,"y":33.1},{"x":2001.588,"y":32.9},{"x":2001.609,"y":32.5},{"x":2001.630,"y":32.1},{"x":2001.648,"y":31.5},{"x":2001.664,"y":31.3},{"x":2001.679,"y":32.1},{"x":2001.700,"y":33.4},{"x":2001.721,"y":33.8},{"x":2001.739,"y":34.2},{"x":2001.761,"y":33.8},{"x":2001.782,"y":33.1},{"x":2001.806,"y":32.3},{"x":2001.830,"y":32.1},{"x":2001.852,"y":32.5},{"x":2001.873,"y":33.4},{"x":2001.897,"y":34.2},{"x":2001.921,"y":35.0},{"x":2001.942,"y":36.2},{"x":2001.964,"y":37.0},{"x":2001.988,"y":37.0},{"x":2002.006,"y":37.4},{"x":2002.024,"y":37.8},{"x":2002.048,"y":38.2},{"x":2002.073,"y":38.6},{"x":2002.094,"y":39.0},{"x":2002.115,"y":39.9},{"x":2002.139,"y":40.3},{"x":2002.164,"y":41.1},{"x":2002.185,"y":41.9},{"x":2002.206,"y":42.7},{"x":2002.218,"y":43.9},{"x":2002.230,"y":43.5},{"x":2002.255,"y":42.3},{"x":2002.276,"y":41.9},{"x":2002.306,"y":41.1},{"x":2002.336,"y":40.3},{"x":2002.367,"y":39.5},{"x":2002.397,"y":38.6},{"x":2002.427,"y":37.4},{"x":2002.448,"y":36.2},{"x":2002.473,"y":35.0},{"x":2002.497,"y":34.6},{"x":2002.521,"y":34.4},{"x":2002.548,"y":34.2},{"x":2002.570,"y":33.4},{"x":2002.594,"y":32.9},{"x":2002.618,"y":32.9},{"x":2002.642,"y":32.5},{"x":2002.670,"y":32.0},{"x":2002.691,"y":32.5},{"x":2002.715,"y":32.5},{"x":2002.739,"y":33.4},{"x":2002.764,"y":34.2},{"x":2002.788,"y":35.4},{"x":2002.812,"y":37.0},{"x":2002.836,"y":37.8},{"x":2002.861,"y":39.0},{"x":2002.885,"y":40.3},{"x":2002.909,"y":41.1},{"x":2002.933,"y":41.5},{"x":2002.958,"y":41.9},{"x":2002.973,"y":43.5},{"x":2002.988,"y":43.9},{"x":2002.994,"y":45.2},{"x":2003.006,"y":43.5},{"x":2003.024,"y":43.1},{"x":2003.048,"y":42.7},{"x":2003.079,"y":43.1},{"x":2003.109,"y":42.9},{"x":2003.139,"y":42.7},{"x":2003.170,"y":42.5},{"x":2003.194,"y":43.1},{"x":2003.215,"y":42.7},{"x":2003.236,"y":42.3},{"x":2003.261,"y":42.7},{"x":2003.285,"y":42.9},{"x":2003.306,"y":41.9},{"x":2003.327,"y":40.3},{"x":2003.352,"y":38.6},{"x":2003.376,"y":37.0},{"x":2003.400,"y":35.8},{"x":2003.424,"y":35.0},{"x":2003.448,"y":34.6},{"x":2003.473,"y":34.2},{"x":2003.497,"y":33.8},{"x":2003.521,"y":32.9},{"x":2003.545,"y":32.5},{"x":2003.570,"y":32.1},{"x":2003.594,"y":31.7},{"x":2003.618,"y":31.2},{"x":2003.642,"y":30.5},{"x":2003.667,"y":30.1},{"x":2003.691,"y":29.7},{"x":2003.715,"y":29.3},{"x":2003.739,"y":29.0},{"x":2003.761,"y":30.1},{"x":2003.776,"y":30.9},{"x":2003.806,"y":30.9},{"x":2003.836,"y":31.3},{"x":2003.867,"y":31.2},{"x":2003.897,"y":31.3},{"x":2003.921,"y":32.1},{"x":2003.945,"y":31.7}],
"o4": [{"x":2000.427,"y":40.7},{"x":2000.442,"y":41.9},{"x":2000.458,"y":41.5},{"x":2000.473,"y":41.2},{"x":2000.488,"y":41.1},{"x":2000.503,"y":41.1},{"x":2000.518,"y":41.2},{"x":2000.533,"y":40.9},{"x":2000.548,"y":41.1},{"x":2000.564,"y":40.9},{"x":2000.579,"y":40.7},{"x":2000.594,"y":40.7},{"x":2000.609,"y":41.1},{"x":2000.624,"y":41.2},{"x":2000.639,"y":41.1},{"x":2000.655,"y":40.3},{"x":2000.670,"y":39.9},{"x":2000.685,"y":39.5},{"x":2000.700,"y":39.3},{"x":2000.715,"y":39.0},{"x":2000.730,"y":39.5},{"x":2000.745,"y":39.5},{"x":2000.761,"y":39.6},{"x":2000.776,"y":39.3},{"x":2000.791,"y":39.5},{"x":2000.812,"y":39.9},{"x":2000.867,"y":38.6},{"x":2000.882,"y":39.0},{"x":2000.897,"y":39.5},{"x":2000.921,"y":39.9},{"x":2000.942,"y":40.3},{"x":2000.964,"y":41.1},{"x":2000.982,"y":40.7},{"x":2001.003,"y":39.9},{"x":2001.018,"y":39.5},{"x":2001.024,"y":41.9},{"x":2001.042,"y":41.5},{"x":2001.055,"y":40.7},{"x":2001.073,"y":41.1},{"x":2001.085,"y":40.7},{"x":2001.097,"y":41.5},{"x":2001.109,"y":40.3},{"x":2001.124,"y":41.1},{"x":2001.139,"y":41.9},{"x":2001.155,"y":41.1},{"x":2001.170,"y":41.5},{"x":2001.185,"y":41.9},{"x":2001.200,"y":42.3},{"x":2001.215,"y":42.1},{"x":2001.230,"y":42.7},{"x":2001.245,"y":42.3},{"x":2001.261,"y":41.9},{"x":2001.276,"y":41.5},{"x":2001.291,"y":41.2},{"x":2001.306,"y":41.9},{"x":2001.321,"y":41.5},{"x":2001.336,"y":41.9},{"x":2001.352,"y":42.3},{"x":2001.367,"y":41.9},{"x":2001.376,"y":43.9},{"x":2001.388,"y":41.1},{"x":2001.412,"y":41.9},{"x":2001.442,"y":42.3},{"x":2001.458,"y":42.1},{"x":2001.473,"y":42.1},{"x":2001.488,"y":42.1},{"x":2001.394,"y":28.6},{"x":2001.406,"y":28.1},{"x":2001.424,"y":27.4},{"x":2001.533,"y":25.6},{"x":2001.548,"y":25.2},{"x":2001.564,"y":24.8},{"x":2001.579,"y":24.4},{"x":2001.594,"y":24.0},{"x":2001.609,"y":23.6},{"x":2001.624,"y":24.2},{"x":2001.639,"y":24.8},{"x":2001.655,"y":25.2},{"x":2001.670,"y":25.6},{"x":2001.685,"y":26.0},{"x":2001.700,"y":26.4},{"x":2001.715,"y":26.8},{"x":2001.730,"y":26.4},{"x":2001.745,"y":26.0},{"x":2001.761,"y":25.6},{"x":2001.776,"y":26.0},{"x":2001.791,"y":25.6},{"x":2001.806,"y":24.8},{"x":2001.821,"y":26.4},{"x":2001.836,"y":27.3},{"x":2001.852,"y":26.8},{"x":2001.867,"y":27.7},{"x":2001.912,"y":45.2},{"x":2001.927,"y":44.3},{"x":2001.942,"y":43.9},{"x":2001.982,"y":43.1},{"x":2002.003,"y":42.3},{"x":2002.048,"y":32.1},{"x":2002.064,"y":31.7},{"x":2002.079,"y":31.3},{"x":2002.094,"y":31.7},{"x":2002.109,"y":32.1},{"x":2002.124,"y":31.5},{"x":2002.139,"y":31.7},{"x":2002.155,"y":32.1},{"x":2002.176,"y":32.3},{"x":2002.194,"y":32.0},{"x":2002.215,"y":45.2},{"x":2002.224,"y":44.3},{"x":2002.236,"y":43.5},{"x":2002.255,"y":43.1},{"x":2002.276,"y":43.5},{"x":2002.291,"y":43.1},{"x":2002.306,"y":43.9},{"x":2002.321,"y":44.3},{"x":2002.336,"y":44.7},{"x":2002.352,"y":45.3},{"x":2002.367,"y":45.8},{"x":2002.382,"y":45.6},{"x":2002.397,"y":45.3},{"x":2002.412,"y":45.2},{"x":2002.427,"y":45.0},{"x":2002.442,"y":44.7},{"x":2002.458,"y":44.3},{"x":2002.473,"y":43.9},{"x":2002.497,"y":43.5},{"x":2002.518,"y":43.4},{"x":2002.539,"y":43.1},{"x":2002.564,"y":43.1},{"x":2002.588,"y":42.9},{"x":2002.609,"y":42.7},{"x":2002.630,"y":44.7},{"x":2002.642,"y":44.3},{"x":2002.655,"y":43.9},{"x":2002.670,"y":43.5},{"x":2002.685,"y":43.1},{"x":2002.700,"y":42.3},{"x":2002.715,"y":41.5},{"x":2002.730,"y":40.7},{"x":2002.745,"y":43.1},{"x":2002.761,"y":43.5},{"x":2002.776,"y":43.1},{"x":2002.800,"y":46.0},{"x":2002.812,"y":46.8},{"x":2002.821,"y":48.4},{"x":2002.830,"y":49.2},{"x":2002.842,"y":48.8},{"x":2002.855,"y":48.0},{"x":2002.867,"y":47.2},{"x":2002.882,"y":48.4},{"x":2002.897,"y":48.8},{"x":2002.912,"y":48.4},{"x":2002.927,"y":47.6},{"x":2002.939,"y":46.8},{"x":2002.952,"y":45.6},{"x":2002.964,"y":45.2},{"x":2002.982,"y":44.3},{"x":2002.994,"y":44.7},{"x":2003.006,"y":46.0},{"x":2003.018,"y":45.6},{"x":2003.033,"y":44.3},{"x":2003.048,"y":43.9},{"x":2003.064,"y":44.7},{"x":2003.079,"y":45.6},{"x":2003.094,"y":45.2},{"x":2003.109,"y":43.9},{"x":2003.124,"y":43.5},{"x":2003.139,"y":44.3},{"x":2003.155,"y":44.7},{"x":2003.170,"y":45.2},{"x":2003.185,"y":44.3},{"x":2003.200,"y":43.9},{"x":2003.215,"y":44.3},{"x":2003.230,"y":44.7},{"x":2003.245,"y":45.2},{"x":2003.261,"y":45.6},{"x":2003.276,"y":46.0},{"x":2003.291,"y":45.6},{"x":2003.306,"y":46.0},{"x":2003.321,"y":46.4},{"x":2003.336,"y":46.4},{"x":2003.352,"y":46.0},{"x":2003.367,"y":45.2},{"x":2003.382,"y":44.3},{"x":2003.397,"y":43.9},{"x":2003.412,"y":46.0},{"x":2003.427,"y":45.6},{"x":2003.442,"y":45.2},{"x":2003.458,"y":43.9},{"x":2003.473,"y":42.7},{"x":2003.488,"y":41.9},{"x":2003.503,"y":41.1},{"x":2003.518,"y":40.3},{"x":2003.533,"y":39.9},{"x":2003.548,"y":39.5},{"x":2003.564,"y":39.0},{"x":2003.579,"y":38.6},{"x":2003.594,"y":38.2},{"x":2003.609,"y":37.8},{"x":2003.624,"y":37.4},{"x":2003.600,"y":34.6},{"x":2003.630,"y":32.1},{"x":2003.642,"y":31.7},{"x":2003.655,"y":31.3},{"x":2003.670,"y":30.9},{"x":2003.685,"y":30.5},{"x":2003.700,"y":30.3},{"x":2003.715,"y":30.1},{"x":2003.730,"y":29.7},{"x":2003.745,"y":29.5},{"x":2003.761,"y":29.9},{"x":2003.776,"y":29.7},{"x":2003.791,"y":29.3},{"x":2003.806,"y":28.9},{"x":2003.821,"y":29.0},{"x":2003.836,"y":28.7},{"x":2003.852,"y":34.2},{"x":2003.867,"y":28.5},{"x":2003.882,"y":28.9},{"x":2003.897,"y":28.1},{"x":2003.912,"y":28.5},{"x":2003.927,"y":27.7},{"x":2003.945,"y":28.1}],
"s5": [{"x":2000.003,"y":37.8},{"x":2000.033,"y":38.6},{"x":2000.048,"y":39.4},{"x":2000.073,"y":39.0},{"x":2000.094,"y":39.4},{"x":2000.115,"y":39.1},{"x":2000.139,"y":39.4},{"x":2000.164,"y":39.1},{"x":2000.185,"y":39.4},{"x":2000.206,"y":39.0},{"x":2000.230,"y":39.4},{"x":2000.248,"y":41.0},{"x":2000.261,"y":39.0},{"x":2000.285,"y":38.8},{"x":2000.306,"y":38.6},{"x":2000.327,"y":37.3},{"x":2000.352,"y":35.7},{"x":2000.382,"y":34.5},{"x":2000.412,"y":33.7},{"x":2000.442,"y":32.8},{"x":2000.473,"y":31.6},{"x":2000.503,"y":30.8},{"x":2000.533,"y":30.4},{"x":2000.564,"y":29.8},{"x":2000.594,"y":29.3},{"x":2000.624,"y":28.7},{"x":2000.655,"y":28.3},{"x":2000.685,"y":28.1},{"x":2000.709,"y":27.8},{"x":2000.730,"y":28.2},{"x":2000.752,"y":28.3},{"x":2000.782,"y":28.6},{"x":2000.821,"y":29.0},{"x":2000.852,"y":29.3},{"x":2000.882,"y":29.6},{"x":2000.912,"y":30.0},{"x":2000.942,"y":30.4},{"x":2000.973,"y":30.6},{"x":2000.994,"y":30.8},{"x":2001.012,"y":31.2},{"x":2001.033,"y":32.0},{"x":2001.055,"y":32.4},{"x":2001.079,"y":33.1},{"x":2001.103,"y":33.7},{"x":2001.124,"y":34.5},{"x":2001.145,"y":35.3},{"x":2001.170,"y":36.5},{"x":2001.194,"y":37.8},{"x":2001.206,"y":40.2},{"x":2001.215,"y":39.0},{"x":2001.230,"y":39.4},{"x":2001.245,"y":38.6},{"x":2001.267,"y":39.0},{"x":2001.285,"y":38.2},{"x":2001.300,"y":40.0},{"x":2001.315,"y":37.8},{"x":2001.336,"y":37.3},{"x":2001.358,"y":36.9},{"x":2001.382,"y":36.1},{"x":2001.412,"y":34.9},{"x":2001.442,"y":33.7},{"x":2001.473,"y":32.6},{"x":2001.503,"y":31.8},{"x":2001.533,"y":30.8},{"x":2001.564,"y":30.0},{"x":2001.594,"y":29.1},{"x":2001.624,"y":28.3},{"x":2001.655,"y":28.2},{"x":2001.673,"y":29.1},{"x":2001.691,"y":30.0},{"x":2001.715,"y":30.4},{"x":2001.739,"y":30.0},{"x":2001.761,"y":29.8},{"x":2001.782,"y":29.6},{"x":2001.806,"y":29.1},{"x":2001.830,"y":29.1},{"x":2001.852,"y":30.0},{"x":2001.873,"y":30.8},{"x":2001.897,"y":31.6},{"x":2001.921,"y":32.0},{"x":2001.942,"y":32.4},{"x":2001.964,"y":32.8},{"x":2001.988,"y":33.4},{"x":2002.012,"y":33.4},{"x":2002.033,"y":33.4},{"x":2002.055,"y":33.7},{"x":2002.079,"y":34.5},{"x":2002.103,"y":34.9},{"x":2002.127,"y":35.3},{"x":2002.152,"y":36.1},{"x":2002.176,"y":37.3},{"x":2002.194,"y":37.5},{"x":2002.206,"y":37.8},{"x":2002.218,"y":41.4},{"x":2002.230,"y":38.2},{"x":2002.255,"y":37.2},{"x":2002.276,"y":37.3},{"x":2002.306,"y":36.1},{"x":2002.336,"y":35.3},{"x":2002.367,"y":34.7},{"x":2002.397,"y":33.9},{"x":2002.427,"y":32.6},{"x":2002.458,"y":31.6},{"x":2002.488,"y":31.2},{"x":2002.518,"y":31.0},{"x":2002.548,"y":30.6},{"x":2002.579,"y":30.1},{"x":2002.609,"y":29.8},{"x":2002.639,"y":29.6},{"x":2002.670,"y":29.0},{"x":2002.691,"y":28.7},{"x":2002.715,"y":29.0},{"x":2002.739,"y":29.6},{"x":2002.764,"y":30.4},{"x":2002.788,"y":31.2},{"x":2002.812,"y":32.4},{"x":2002.836,"y":33.7},{"x":2002.861,"y":34.7},{"x":2002.885,"y":35.7},{"x":2002.909,"y":36.5},{"x":2002.933,"y":37.3},{"x":2002.958,"y":37.8},{"x":2002.973,"y":38.3},{"x":2002.988,"y":39.8},{"x":2003.003,"y":38.2},{"x":2003.024,"y":38.3},{"x":2003.048,"y":38.6},{"x":2003.079,"y":38.3},{"x":2003.109,"y":38.2},{"x":2003.139,"y":38.3},{"x":2003.164,"y":38.0},{"x":2003.185,"y":38.2},{"x":2003.206,"y":38.6},{"x":2003.230,"y":38.0},{"x":2003.255,"y":38.3},{"x":2003.276,"y":39.0},{"x":2003.297,"y":37.8},{"x":2003.321,"y":36.9},{"x":2003.345,"y":35.7},{"x":2003.370,"y":34.5},{"x":2003.394,"y":33.1},{"x":2003.418,"y":32.0},{"x":2003.442,"y":31.2},{"x":2003.467,"y":30.6},{"x":2003.491,"y":30.1},{"x":2003.515,"y":29.8},{"x":2003.539,"y":29.3},{"x":2003.564,"y":28.9},{"x":2003.588,"y":28.5},{"x":2003.612,"y":27.9},{"x":2003.636,"y":27.3},{"x":2003.661,"y":26.7},{"x":2003.685,"y":26.5},{"x":2003.709,"y":26.5},{"x":2003.733,"y":26.3},{"x":2003.752,"y":26.0},{"x":2003.770,"y":27.7},{"x":2003.791,"y":27.9},{"x":2003.821,"y":28.2},{"x":2003.852,"y":28.3},{"x":2003.882,"y":28.2},{"x":2003.912,"y":28.5},{"x":2003.945,"y":28.7}],
"o5": [{"x":2000.436,"y":34.5},{"x":2000.448,"y":35.7},{"x":2000.461,"y":34.9},{"x":2000.473,"y":34.7},{"x":2000.488,"y":34.7},{"x":2000.503,"y":34.5},{"x":2000.518,"y":34.5},{"x":2000.533,"y":34.2},{"x":2000.548,"y":34.1},{"x":2000.564,"y":34.1},{"x":2000.579,"y":33.9},{"x":2000.594,"y":33.9},{"x":2000.609,"y":33.7},{"x":2000.624,"y":33.7},{"x":2000.639,"y":33.4},{"x":2000.655,"y":33.4},{"x":2000.670,"y":33.2},{"x":2000.685,"y":33.1},{"x":2000.700,"y":33.1},{"x":2000.715,"y":33.4},{"x":2000.730,"y":33.7},{"x":2000.745,"y":34.1},{"x":2000.761,"y":34.2},{"x":2000.770,"y":35.0},{"x":2000.782,"y":34.5},{"x":2000.800,"y":34.1},{"x":2000.882,"y":33.1},{"x":2000.897,"y":33.7},{"x":2000.912,"y":34.5},{"x":2000.927,"y":34.7},{"x":2000.942,"y":34.9},{"x":2000.958,"y":35.3},{"x":2000.973,"y":35.7},{"x":2000.988,"y":35.9},{"x":2001.018,"y":36.9},{"x":2001.033,"y":36.5},{"x":2001.048,"y":36.1},{"x":2001.064,"y":36.4},{"x":2001.079,"y":35.7},{"x":2001.094,"y":35.9},{"x":2001.109,"y":36.5},{"x":2001.124,"y":36.9},{"x":2001.139,"y":36.5},{"x":2001.155,"y":36.9},{"x":2001.170,"y":37.3},{"x":2001.185,"y":37.5},{"x":2001.200,"y":37.8},{"x":2001.215,"y":38.0},{"x":2001.230,"y":37.8},{"x":2001.245,"y":37.8},{"x":2001.261,"y":38.2},{"x":2001.276,"y":37.5},{"x":2001.291,"y":36.9},{"x":2001.306,"y":36.9},{"x":2001.321,"y":36.7},{"x":2001.336,"y":36.5},{"x":2001.352,"y":36.7},{"x":2001.367,"y":36.9},{"x":2001.376,"y":37.8},{"x":2001.442,"y":36.9},{"x":2001.458,"y":36.5},{"x":2001.473,"y":36.1},{"x":2001.488,"y":35.7},{"x":2001.497,"y":35.5},{"x":2001.394,"y":29.6},{"x":2001.406,"y":29.0},{"x":2001.418,"y":28.3},{"x":2001.430,"y":27.9},{"x":2001.533,"y":26.3},{"x":2001.548,"y":25.9},{"x":2001.564,"y":25.5},{"x":2001.579,"y":25.2},{"x":2001.594,"y":25.0},{"x":2001.609,"y":24.6},{"x":2001.624,"y":24.4},{"x":2001.639,"y":24.2},{"x":2001.655,"y":24.6},{"x":2001.661,"y":26.3},{"x":2001.670,"y":27.1},{"x":2001.679,"y":28.3},{"x":2001.691,"y":28.7},{"x":2001.700,"y":27.5},{"x":2001.715,"y":27.1},{"x":2001.730,"y":26.9},{"x":2001.745,"y":26.7},{"x":2001.761,"y":26.5},{"x":2001.776,"y":26.3},{"x":2001.791,"y":26.0},{"x":2001.806,"y":25.9},{"x":2001.821,"y":26.0},{"x":2001.830,"y":27.5},{"x":2001.842,"y":28.7},{"x":2001.861,"y":27.1},{"x":2001.912,"y":39.0},{"x":2001.927,"y":38.8},{"x":2001.942,"y":39.1},{"x":2001.988,"y":38.6},{"x":2002.003,"y":37.3},{"x":2002.048,"y":33.2},{"x":2002.064,"y":32.8},{"x":2002.079,"y":32.6},{"x":2002.094,"y":34.1},{"x":2002.109,"y":33.7},{"x":2002.124,"y":33.2},{"x":2002.139,"y":33.1},{"x":2002.155,"y":32.6},{"x":2002.170,"y":33.1},{"x":2002.185,"y":34.5},{"x":2002.206,"y":39.0},{"x":2002.215,"y":38.2},{"x":2002.224,"y":37.3},{"x":2002.236,"y":38.6},{"x":2002.255,"y":38.2},{"x":2002.276,"y":38.6},{"x":2002.291,"y":37.8},{"x":2002.306,"y":38.2},{"x":2002.321,"y":39.0},{"x":2002.336,"y":39.4},{"x":2002.352,"y":39.8},{"x":2002.367,"y":40.2},{"x":2002.382,"y":39.8},{"x":2002.397,"y":39.4},{"x":2002.412,"y":39.0},{"x":2002.427,"y":38.6},{"x":2002.442,"y":38.2},{"x":2002.458,"y":38.0},{"x":2002.473,"y":37.8},{"x":2002.488,"y":37.5},{"x":2002.503,"y":37.3},{"x":2002.518,"y":37.2},{"x":2002.533,"y":36.9},{"x":2002.548,"y":36.9},{"x":2002.564,"y":36.7},{"x":2002.579,"y":36.5},{"x":2002.594,"y":36.4},{"x":2002.609,"y":36.1},{"x":2002.624,"y":36.1},{"x":2002.639,"y":36.3},{"x":2002.655,"y":36.0},{"x":2002.670,"y":35.9},{"x":2002.685,"y":35.7},{"x":2002.700,"y":35.3},{"x":2002.715,"y":34.9},{"x":2002.730,"y":34.5},{"x":2002.745,"y":34.9},{"x":2002.761,"y":35.3},{"x":2002.776,"y":35.7},{"x":2002.791,"y":39.8},{"x":2002.806,"y":40.6},{"x":2002.821,"y":41.0},{"x":2002.836,"y":40.6},{"x":2002.852,"y":40.2},{"x":2002.867,"y":40.6},{"x":2002.882,"y":40.8},{"x":2002.897,"y":40.2},{"x":2002.912,"y":39.8},{"x":2002.927,"y":40.0},{"x":2002.942,"y":39.4},{"x":2002.958,"y":39.8},{"x":2002.973,"y":39.8},{"x":2002.988,"y":39.6},{"x":2003.003,"y":39.4},{"x":2003.018,"y":39.8},{"x":2003.033,"y":39.0},{"x":2003.048,"y":38.3},{"x":2003.064,"y":38.0},{"x":2003.079,"y":39.1},{"x":2003.094,"y":39.0},{"x":2003.109,"y":38.6},{"x":2003.124,"y":38.2},{"x":2003.139,"y":37.8},{"x":2003.155,"y":38.3},{"x":2003.170,"y":38.6},{"x":2003.185,"y":39.1},{"x":2003.200,"y":38.6},{"x":2003.215,"y":38.0},{"x":2003.230,"y":37.8},{"x":2003.245,"y":38.0},{"x":2003.261,"y":38.2},{"x":2003.276,"y":38.3},{"x":2003.291,"y":38.2},{"x":2003.306,"y":38.0},{"x":2003.321,"y":38.3},{"x":2003.336,"y":38.2},{"x":2003.352,"y":38.0},{"x":2003.367,"y":37.8},{"x":2003.382,"y":37.5},{"x":2003.397,"y":36.9},{"x":2003.412,"y":36.5},{"x":2003.427,"y":36.1},{"x":2003.442,"y":35.7},{"x":2003.458,"y":35.3},{"x":2003.473,"y":34.9},{"x":2003.488,"y":34.5},{"x":2003.503,"y":34.1},{"x":2003.518,"y":33.7},{"x":2003.533,"y":33.2},{"x":2003.548,"y":32.8},{"x":2003.564,"y":32.4},{"x":2003.579,"y":32.0},{"x":2003.594,"y":31.6},{"x":2003.609,"y":31.0},{"x":2003.624,"y":30.4},{"x":2003.639,"y":30.0},{"x":2003.655,"y":29.6},{"x":2003.670,"y":29.1},{"x":2003.685,"y":28.7},{"x":2003.700,"y":28.5},{"x":2003.715,"y":28.3},{"x":2003.730,"y":28.2},{"x":2003.745,"y":28.1},{"x":2003.761,"y":29.1},{"x":2003.776,"y":28.7},{"x":2003.791,"y":28.2},{"x":2003.806,"y":28.3},{"x":2003.821,"y":27.9},{"x":2003.836,"y":28.2},{"x":2003.852,"y":27.9},{"x":2003.867,"y":28.2},{"x":2003.882,"y":27.9},{"x":2003.897,"y":27.5},{"x":2003.912,"y":27.7},{"x":2003.927,"y":27.5},{"x":2003.945,"y":27.3}]
},
"vconcat": [
{
 "width": 434, "height": 122,
 "resolve": {"axis": {"x": "independent"}},
 "layer": [
  {"data": {"name": "s1"}, "mark": {"type": "line", "strokeWidth": 1, "clip": true},
   "encoding": {
    "x": {"field": "x", "type": "quantitative", "scale": {"domain": [2000, 2003.945], "nice": false, "zero": false},
          "axis": {"orient": "bottom", "values": [2000, 2001, 2002, 2003], "tickCount": 10, "labels": false, "tickSize": 5, "title": null, "grid": true, "gridDash": [1, 2], "gridColor": "black", "gridWidth": 1}},
    "y": {"field": "y", "type": "quantitative", "scale": {"domain": [12, 40.37], "nice": false, "zero": false},
          "axis": {"values": [12, 18, 24, 30, 36], "tickCount": 10, "tickSize": 7, "labelPadding": 6, "title": null, "labelOverlap": false}},
    "color": {"datum": "Simuliert(Forest-DNDC)", "type": "nominal",
      "scale": {"domain": ["Simuliert(Forest-DNDC)", "Gemessen"], "range": ["#0000ff", "#ff0000"]},
      "legend": {"orient": "none", "legendX": 288, "legendY": -46, "title": null, "strokeColor": "black", "fillColor": "white", "padding": 2, "labelFontSize": 10.5, "labelFont": "Liberation Sans", "labelColor": "black", "symbolSize": 64, "symbolStrokeWidth": 1, "symbolOffset": 9, "labelOffset": 11, "rowPadding": 4,
        "encode": {"symbols": {"update": {
          "shape": {"signal": "datum.value === 'Gemessen' ? 'M-0.2,-0.2H0.2V0.2H-0.2Z' : 'M-1.5,0H1.5'"},
          "fill": {"signal": "datum.value === 'Gemessen' ? '#ff0000' : 'transparent'"},
          "stroke": {"signal": "datum.value === 'Gemessen' ? 'transparent' : '#0000ff'"},
          "strokeWidth": {"value": 1},
          "opacity": {"value": 1}
        }}}}}
   }},
  {"data": {"name": "o1"}, "mark": {"type": "point", "filled": true, "size": 9, "opacity": 1, "clip": true},
   "encoding": {
    "x": {"field": "x", "type": "quantitative", "axis": {"orient": "top", "values": [2001, 2002, 2003], "tickCount": 10, "labels": false, "tickSize": 5, "title": null}},
    "y": {"field": "y", "type": "quantitative"},
    "color": {"datum": "Gemessen", "type": "nominal"}
   }},
  {"data": {"values": [{"label": "5 cm"}]}, "mark": {"type": "rect", "color": "black"},
   "encoding": {"x": {"datum": 2000.12, "type": "quantitative", "axis": null}, "x2": {"datum": 2000.41}, "y": {"datum": 12.47, "type": "quantitative"}, "y2": {"datum": 16.65}}},
  {"data": {"values": [{"label": "5 cm"}]}, "mark": {"type": "rect", "fill": "white", "stroke": "black", "strokeWidth": 1},
   "encoding": {"x": {"datum": 2000.065, "type": "quantitative", "axis": null}, "x2": {"datum": 2000.355}, "y": {"datum": 14.1, "type": "quantitative"}, "y2": {"datum": 18.05}}},
  {"data": {"values": [{"label": "5 cm"}]}, "mark": {"type": "text", "font": "Liberation Sans", "fontWeight": "bold", "fontSize": 12, "align": "left", "baseline": "middle", "dx": 2, "color": "black"},
   "encoding": {"x": {"datum": 2000.065, "type": "quantitative", "axis": null}, "y": {"datum": 16.07, "type": "quantitative"}, "text": {"field": "label"}}}
 ]
},
{
 "width": 434, "height": 122,
 "resolve": {"axis": {"x": "independent"}},
 "layer": [
  {"data": {"name": "s2"}, "mark": {"type": "line", "strokeWidth": 1, "clip": true},
   "encoding": {
    "x": {"field": "x", "type": "quantitative", "scale": {"domain": [2000, 2003.945], "nice": false, "zero": false},
          "axis": {"orient": "bottom", "values": [2000, 2001, 2002, 2003], "tickCount": 10, "labels": false, "tickSize": 5, "title": null, "grid": true, "gridDash": [1, 2], "gridColor": "black", "gridWidth": 1}},
    "y": {"field": "y", "type": "quantitative", "scale": {"domain": [20, 50], "nice": false, "zero": false},
          "axis": {"values": [24, 30, 36, 42, 48], "tickCount": 10, "tickSize": 7, "labelPadding": 6, "title": null, "labelOverlap": false}},
    "color": {"datum": "Simuliert(Forest-DNDC)", "type": "nominal"}
   }},
  {"data": {"name": "o2"}, "mark": {"type": "point", "filled": true, "size": 9, "opacity": 1, "clip": true},
   "encoding": {
    "x": {"field": "x", "type": "quantitative", "axis": {"orient": "top", "values": [2001, 2002, 2003], "tickCount": 10, "labels": false, "tickSize": 5, "title": null}},
    "y": {"field": "y", "type": "quantitative"},
    "color": {"datum": "Gemessen", "type": "nominal"}
   }},
  {"data": {"values": [{"label": "30 cm"}]}, "mark": {"type": "rect", "color": "black"},
   "encoding": {"x": {"datum": 2000.12, "type": "quantitative", "axis": null}, "x2": {"datum": 2000.465}, "y": {"datum": 20.44, "type": "quantitative"}, "y2": {"datum": 24.67}}},
  {"data": {"values": [{"label": "30 cm"}]}, "mark": {"type": "rect", "fill": "white", "stroke": "black", "strokeWidth": 1},
   "encoding": {"x": {"datum": 2000.065, "type": "quantitative", "axis": null}, "x2": {"datum": 2000.41}, "y": {"datum": 21.97, "type": "quantitative"}, "y2": {"datum": 26.15}}},
  {"data": {"values": [{"label": "30 cm"}]}, "mark": {"type": "text", "font": "Liberation Sans", "fontWeight": "bold", "fontSize": 12, "align": "left", "baseline": "middle", "dx": 2, "color": "black"},
   "encoding": {"x": {"datum": 2000.065, "type": "quantitative", "axis": null}, "y": {"datum": 24.06, "type": "quantitative"}, "text": {"field": "label"}}}
 ]
},
{
 "width": 434, "height": 122,
 "resolve": {"axis": {"x": "independent"}},
 "layer": [
  {"data": {"name": "s3"}, "mark": {"type": "line", "strokeWidth": 1, "clip": true},
   "encoding": {
    "x": {"field": "x", "type": "quantitative", "scale": {"domain": [2000, 2003.945], "nice": false, "zero": false},
          "axis": {"orient": "bottom", "values": [2000, 2001, 2002, 2003], "tickCount": 10, "labels": false, "tickSize": 5, "title": null, "grid": true, "gridDash": [1, 2], "gridColor": "black", "gridWidth": 1}},
    "y": {"field": "y", "type": "quantitative", "scale": {"domain": [20, 50], "nice": false, "zero": false},
          "axis": {"values": [24, 30, 36, 42, 48], "tickCount": 10, "tickSize": 7, "labelPadding": 6, "labelOverlap": false, "title": "Volumetrischer Wassergehalt [cm / m³]", "titleFontSize": 14, "titlePadding": 11}},
    "color": {"datum": "Simuliert(Forest-DNDC)", "type": "nominal"}
   }},
  {"data": {"name": "o3"}, "mark": {"type": "point", "filled": true, "size": 9, "opacity": 1, "clip": true},
   "encoding": {
    "x": {"field": "x", "type": "quantitative", "axis": {"orient": "top", "values": [2001, 2002, 2003], "tickCount": 10, "labels": false, "tickSize": 5, "title": null}},
    "y": {"field": "y", "type": "quantitative"},
    "color": {"datum": "Gemessen", "type": "nominal"}
   }},
  {"data": {"values": [{"label": "60 cm"}]}, "mark": {"type": "rect", "color": "black"},
   "encoding": {"x": {"datum": 2000.12, "type": "quantitative", "axis": null}, "x2": {"datum": 2000.45}, "y": {"datum": 20.44, "type": "quantitative"}, "y2": {"datum": 24.67}}},
  {"data": {"values": [{"label": "60 cm"}]}, "mark": {"type": "rect", "fill": "white", "stroke": "black", "strokeWidth": 1},
   "encoding": {"x": {"datum": 2000.065, "type": "quantitative", "axis": null}, "x2": {"datum": 2000.395}, "y": {"datum": 21.97, "type": "quantitative"}, "y2": {"datum": 26.15}}},
  {"data": {"values": [{"label": "60 cm"}]}, "mark": {"type": "text", "font": "Liberation Sans", "fontWeight": "bold", "fontSize": 12, "align": "left", "baseline": "middle", "dx": 2, "color": "black"},
   "encoding": {"x": {"datum": 2000.065, "type": "quantitative", "axis": null}, "y": {"datum": 24.06, "type": "quantitative"}, "text": {"field": "label"}}}
 ]
},
{
 "width": 434, "height": 122,
 "resolve": {"axis": {"x": "independent"}},
 "layer": [
  {"data": {"name": "s4"}, "mark": {"type": "line", "strokeWidth": 1, "clip": true},
   "encoding": {
    "x": {"field": "x", "type": "quantitative", "scale": {"domain": [2000, 2003.945], "nice": false, "zero": false},
          "axis": {"orient": "bottom", "values": [2000, 2001, 2002, 2003], "tickCount": 10, "labels": false, "tickSize": 5, "title": null, "grid": true, "gridDash": [1, 2], "gridColor": "black", "gridWidth": 1}},
    "y": {"field": "y", "type": "quantitative", "scale": {"domain": [20, 50], "nice": false, "zero": false},
          "axis": {"values": [24, 30, 36, 42, 48], "tickCount": 10, "tickSize": 7, "labelPadding": 6, "title": null, "labelOverlap": false}},
    "color": {"datum": "Simuliert(Forest-DNDC)", "type": "nominal"}
   }},
  {"data": {"name": "o4"}, "mark": {"type": "point", "filled": true, "size": 9, "opacity": 1, "clip": true},
   "encoding": {
    "x": {"field": "x", "type": "quantitative", "axis": {"orient": "top", "values": [2001, 2002, 2003], "tickCount": 10, "labels": false, "tickSize": 5, "title": null}},
    "y": {"field": "y", "type": "quantitative"},
    "color": {"datum": "Gemessen", "type": "nominal"}
   }},
  {"data": {"values": [{"label": "90 cm"}]}, "mark": {"type": "rect", "color": "black"},
   "encoding": {"x": {"datum": 2000.12, "type": "quantitative", "axis": null}, "x2": {"datum": 2000.45}, "y": {"datum": 20.44, "type": "quantitative"}, "y2": {"datum": 24.67}}},
  {"data": {"values": [{"label": "90 cm"}]}, "mark": {"type": "rect", "fill": "white", "stroke": "black", "strokeWidth": 1},
   "encoding": {"x": {"datum": 2000.065, "type": "quantitative", "axis": null}, "x2": {"datum": 2000.395}, "y": {"datum": 21.97, "type": "quantitative"}, "y2": {"datum": 26.15}}},
  {"data": {"values": [{"label": "90 cm"}]}, "mark": {"type": "text", "font": "Liberation Sans", "fontWeight": "bold", "fontSize": 12, "align": "left", "baseline": "middle", "dx": 2, "color": "black"},
   "encoding": {"x": {"datum": 2000.065, "type": "quantitative", "axis": null}, "y": {"datum": 24.06, "type": "quantitative"}, "text": {"field": "label"}}}
 ]
},
{
 "width": 434, "height": 122,
 "resolve": {"axis": {"x": "independent"}},
 "layer": [
  {"data": {"name": "s5"}, "mark": {"type": "line", "strokeWidth": 1, "clip": true},
   "encoding": {
    "x": {"field": "x", "type": "quantitative", "scale": {"domain": [2000, 2003.945], "nice": false, "zero": false},
          "axis": {"orient": "bottom", "values": [2000, 2001, 2002, 2003], "tickCount": 10, "format": "d", "labels": true, "tickSize": 5, "labelPadding": 6, "title": null, "grid": true, "gridDash": [1, 2], "gridColor": "black", "gridWidth": 1}},
    "y": {"field": "y", "type": "quantitative", "scale": {"domain": [20, 50], "nice": false, "zero": false},
          "axis": {"values": [24, 30, 36, 42, 48], "tickCount": 10, "tickSize": 7, "labelPadding": 6, "title": null, "labelOverlap": false}},
    "color": {"datum": "Simuliert(Forest-DNDC)", "type": "nominal"}
   }},
  {"data": {"name": "o5"}, "mark": {"type": "point", "filled": true, "size": 9, "opacity": 1, "clip": true},
   "encoding": {
    "x": {"field": "x", "type": "quantitative", "axis": {"orient": "top", "values": [2001, 2002, 2003], "tickCount": 10, "labels": false, "tickSize": 5, "title": null}},
    "y": {"field": "y", "type": "quantitative"},
    "color": {"datum": "Gemessen", "type": "nominal"}
   }},
  {"data": {"values": [{"label": "120 cm"}]}, "mark": {"type": "rect", "color": "black"},
   "encoding": {"x": {"datum": 2000.12, "type": "quantitative", "axis": null}, "x2": {"datum": 2000.512}, "y": {"datum": 20.44, "type": "quantitative"}, "y2": {"datum": 24.67}}},
  {"data": {"values": [{"label": "120 cm"}]}, "mark": {"type": "rect", "fill": "white", "stroke": "black", "strokeWidth": 1},
   "encoding": {"x": {"datum": 2000.065, "type": "quantitative", "axis": null}, "x2": {"datum": 2000.457}, "y": {"datum": 21.97, "type": "quantitative"}, "y2": {"datum": 26.15}}},
  {"data": {"values": [{"label": "120 cm"}]}, "mark": {"type": "text", "font": "Liberation Sans", "fontWeight": "bold", "fontSize": 12, "align": "left", "baseline": "middle", "dx": 2, "color": "black"},
   "encoding": {"x": {"datum": 2000.065, "type": "quantitative", "axis": null}, "y": {"datum": 24.06, "type": "quantitative"}, "text": {"field": "label"}}}
 ]
}
]
}
